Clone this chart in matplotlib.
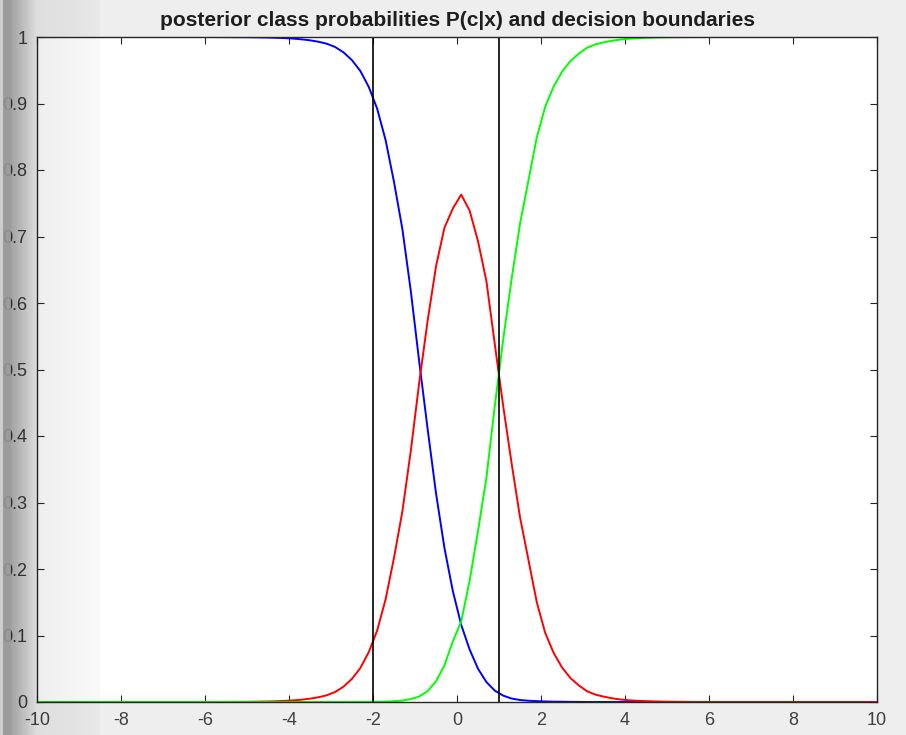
import numpy as np
import matplotlib
matplotlib.use("Agg")
import matplotlib.pyplot as plt

# x positions: flat tails plus 0.2 steps through the middle
x = [-10, -6,
     -5.1, -4.9, -4.7, -4.5, -4.3, -4.1, -3.9, -3.7, -3.5, -3.3, -3.1, -2.9, -2.7,
     -2.5, -2.3, -2.1, -1.9, -1.7, -1.5, -1.3, -1.1, -0.9, -0.7, -0.5, -0.3, -0.1,
     0.1, 0.3, 0.5, 0.7, 0.9, 1.1, 1.3, 1.5, 1.7, 1.9, 2.1, 2.3, 2.5, 2.7, 2.9,
     3.1, 3.3, 3.5, 3.7, 3.9, 4.1, 4.3, 4.5, 4.7, 4.9, 5.1,
     6, 10]

# posterior P(c|x) for the three classes
p_blue = [1, 1,
          0.9997, 0.9996, 0.9994, 0.9992, 0.9988, 0.9983, 0.9976, 0.9965, 0.9950,
          0.9929, 0.9899, 0.9849, 0.9768, 0.9651, 0.9488, 0.9248, 0.892, 0.845,
          0.782, 0.711, 0.618, 0.512, 0.411, 0.314, 0.232, 0.167,
          0.116, 0.079, 0.050, 0.030, 0.0171, 0.0096, 0.0052, 0.0030, 0.0019,
          0.0013, 0.0008, 0.0005, 0.0004, 0.0002, 0.0001,
          0, 0, 0, 0, 0, 0, 0, 0, 0, 0, 0,
          0, 0]
p_red = [0, 0,
         0.0003, 0.0004, 0.0006, 0.0008, 0.0012, 0.0017, 0.0024, 0.0035, 0.0050,
         0.0071, 0.0101, 0.0151, 0.0232, 0.0349, 0.0512, 0.0751, 0.1077, 0.1544,
         0.2168, 0.2868, 0.3777, 0.480, 0.573, 0.655, 0.713, 0.742,
         0.763, 0.739, 0.693, 0.633, 0.538, 0.445, 0.359, 0.278, 0.214, 0.150,
         0.104, 0.074, 0.052, 0.036, 0.025, 0.016, 0.011, 0.008, 0.0055, 0.0037,
         0.0026, 0.0018, 0.0013, 0.0009, 0.0006, 0.0004,
         0, 0]
p_green = [0, 0,
           0, 0, 0, 0, 0, 0, 0, 0, 0, 0, 0, 0, 0, 0, 0,
           0.0001, 0.0003, 0.0006, 0.0012, 0.0022, 0.0043, 0.0082, 0.0163, 0.031,
           0.055, 0.091,
           0.121, 0.182, 0.257, 0.337, 0.445, 0.545, 0.636, 0.719, 0.784, 0.849,
           0.895, 0.9255, 0.9476, 0.9638, 0.9749, 0.984, 0.989, 0.992, 0.9945,
           0.9963, 0.9974, 0.9982, 0.9987, 0.9991, 0.9994, 0.9996,
           1, 1]

# decision boundaries
boundaries = [-2, 1]

xticks = list(range(-10, 11, 2))
yticks = [0, 0.1, 0.2, 0.3, 0.4, 0.5, 0.6, 0.7, 0.8, 0.9, 1]
yticklabels = ['0', '0.1', '0.2', '0.3', '0.4', '0.5', '0.6', '0.7', '0.8', '0.9', '1']

plt.rcParams['font.family'] = ['Liberation Sans', 'DejaVu Sans']
plt.rcParams['axes.unicode_minus'] = False

fig = plt.figure(figsize=(9.06, 7.35), dpi=100, facecolor='#eeeeee')
ax = fig.add_axes([37 / 906, 33 / 735, 840 / 906, 665 / 735])
ax.set_facecolor('white')

ax.plot(x, p_blue, color=(0, 0, 1), lw=1.4)
ax.plot(x, p_red, color=(1, 0, 0), lw=1.4)
ax.plot(x, p_green, color=(0, 1, 0), lw=1.4)
for b in boundaries:
    ax.axvline(b, color='black', lw=1.2)

ax.set_xlim(-10, 10)
ax.set_ylim(0, 1)
ax.set_xticks(xticks)
ax.set_yticks(yticks)
ax.set_yticklabels(yticklabels)
ax.tick_params(direction='in', length=5, width=0.8, top=True, right=True,
               labelsize=13, labelcolor='#404040', color='#262626', pad=7)
for s in ax.spines.values():
    s.set_color('#262626')
    s.set_linewidth(1.0)
ax.set_title('posterior class probabilities P(c|x) and decision boundaries',
             fontsize=15, fontweight='bold', color='#1e1e1e', pad=8)

# shaded strip along the left edge of the window
shade = fig.add_axes([0, 0, 100 / 906, 1], zorder=10)
px = np.arange(100) + 0.5
grey = np.interp(px, [0, 3, 3.01, 11, 11.01, 100], [0.80, 0.80, 0.58, 0.58, 0, 0])
alpha = np.interp(px, [0, 3, 3.01, 11, 11.01, 37, 100],
                  [0.95, 0.95, 0.9, 0.9, 0.32, 0.07, 0.025])
img = np.zeros((1, 100, 4))
img[0, :, 0] = grey
img[0, :, 1] = grey
img[0, :, 2] = grey
img[0, :, 3] = alpha
shade.imshow(img, aspect='auto', extent=[0, 1, 0, 1], interpolation='nearest')
shade.axis('off')

fig.savefig('out.png', dpi=100, facecolor=fig.get_facecolor())
